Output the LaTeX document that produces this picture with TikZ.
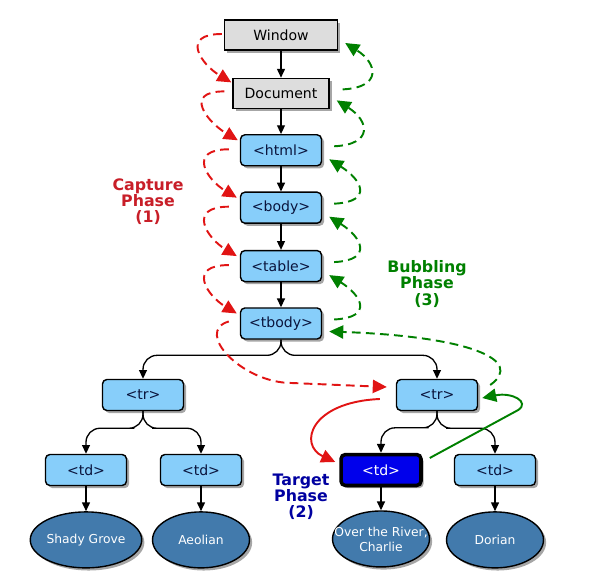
\documentclass[tikz,border=0pt]{standalone}
\usepackage{fontspec}
\setmainfont{DejaVu Sans}
\usetikzlibrary{shapes.geometric, arrows.meta, positioning, calc, shadows}
\definecolor{boxblue}{RGB}{135,206,250}
\definecolor{boxgray}{RGB}{221,221,221}
\definecolor{tgtblue}{RGB}{0,0,235}
\definecolor{leafblue}{RGB}{66,122,172}
\definecolor{txtnavy}{RGB}{10,20,60}
\definecolor{capred}{RGB}{225,20,20}
\definecolor{capredtxt}{RGB}{200,30,40}
\definecolor{bubgreen}{RGB}{0,128,0}
\definecolor{tgtnavy}{RGB}{0,0,160}
\tikzset{
  domshadow/.style={drop shadow={shadow xshift=1.5pt, shadow yshift=-1.5pt,
    fill=black, opacity=0.35}},
  winbox/.style={rectangle, draw=black, fill=boxgray, minimum height=0.6cm,
    font=\fontsize{8}{9}\selectfont, line width=0.8pt, domshadow},
  elbox/.style={rectangle, draw=black, fill=boxblue, minimum width=1.62cm,
    minimum height=0.62cm, rounded corners=2.5pt, text=txtnavy,
    font=\fontsize{8}{9}\selectfont, line width=0.8pt, domshadow},
  tgtbox/.style={elbox, fill=tgtblue, text=white, line width=2pt,
    minimum width=1.6cm, minimum height=0.62cm},
  leaf/.style={ellipse, draw=black, fill=leafblue, minimum width=1.94cm,
    minimum height=1.12cm, inner sep=0pt, align=center, text=white,
    font=\fontsize{7}{8.5}\selectfont, line width=0.8pt, domshadow},
  phase/.style={align=center, font=\fontsize{9}{9.2}\selectfont\bfseries},
  arrow/.style={-{Triangle[length=5pt,width=4.5pt]}, line width=0.75pt, color=black},
  tree/.style={arrow, rounded corners=8pt},
  capture/.style={-{Triangle[length=8pt,width=7.5pt]}, line width=1.1pt,
    dash pattern=on 5pt off 3pt, color=capred},
  bubble/.style={capture, color=bubgreen},
  capsolid/.style={-{Triangle[length=8pt,width=7.5pt]}, line width=1.1pt, color=capred},
  bubsolid/.style={capsolid, color=bubgreen}
}
\begin{document}
\begin{tikzpicture}[x=0.02cm, y=-0.02cm]
  \useasboundingbox (0,0) rectangle (604,581);

  % document chain
  \node[winbox, minimum width=2.26cm] (win) at (281,35) {Window};
  \node[winbox, minimum width=1.92cm, below=0.54cm of win] (doc) {Document};
  \node[elbox, below=0.5cm of doc] (html) {<html>};
  \node[elbox, below=0.5cm of html] (body) {<body>};
  \node[elbox, below=0.52cm of body] (table) {<table>};
  \node[elbox, below=0.5cm of table] (tbody) {<tbody>};

  % rows and cells
  \node[elbox] (trl) at (143,395) {<tr>};
  \node[elbox] (trr) at (437,395) {<tr>};
  \node[elbox] (td1) at (86,470) {<td>};
  \node[elbox] (td2) at (201,470) {<td>};
  \node[tgtbox] (tgt) at (381,470) {<td>};
  \node[elbox] (td4) at (495,470) {<td>};

  \node[leaf, below=0.5cm of td1] (shady) {Shady Grove};
  \node[leaf, below=0.5cm of td2] (aeol) {Aeolian};
  \node[leaf, inner xsep=-7.5pt, below=0.46cm of tgt] (river) {Over the River,\\Charlie};
  \node[leaf, below=0.5cm of td4] (dorian) {Dorian};

  % phase labels
  \node[phase, text=capredtxt] (capt) at (148,202) {Capture\\Phase\\(1)};
  \node[phase, text=bubgreen] (bubl) at (427,284) {Bubbling\\Phase\\(3)};
  \node[phase, text=tgtnavy] (targ) at (301,497) {Target\\Phase\\(2)};

  % tree edges
  \draw[arrow] (win) -- (doc);
  \draw[arrow] (doc) -- (html);
  \draw[arrow] (html) -- (body);
  \draw[arrow] (body) -- (table);
  \draw[arrow] (table) -- (tbody);
  \draw[tree] (tbody.south) |- ($(tbody.south)!0.4!(trl.north)$) -| (trl.north);
  \draw[tree] (tbody.south) |- ($(tbody.south)!0.4!(trr.north)$) -| (trr.north);
  \draw[tree] (trl.south) |- ($(trl.south)!0.4!(td1.north)$) -| (td1.north);
  \draw[tree] (trl.south) |- ($(trl.south)!0.4!(td2.north)$) -| (td2.north);
  \draw[tree] (trr.south) |- ($(trr.south)!0.4!(tgt.north)$) -| (tgt.north);
  \draw[tree] (trr.south) |- ($(trr.south)!0.4!(td4.north)$) -| (td4.north);
  \draw[arrow] (td1) -- (shady);
  \draw[arrow] (td2) -- (aeol);
  \draw[arrow] (tgt) -- (river);
  \draw[arrow] (td4) -- (dorian);

  % capture phase
  \draw[capture] ($(win.west)+(-2,-1)$) .. controls +(-42,0) and +(-30,-18) .. ($(doc.west)+(-1,-11)$);
  \draw[capture] ($(doc.west)+(-8,-2)$) .. controls +(-42,0) and +(-30,-18) .. ($(html.west)+(-2,-10)$);
  \draw[capture] ($(html.west)+(-11,-1)$) .. controls +(-42,0) and +(-30,-18) .. ($(body.west)+(-3,-10)$);
  \draw[capture] ($(body.west)+(-11,-1)$) .. controls +(-42,0) and +(-30,-18) .. ($(table.west)+(-3,-10)$);
  \draw[capture] ($(table.west)+(-11,-1)$) .. controls +(-42,0) and +(-30,-18) .. ($(tbody.west)+(-3,-10)$);
  \draw[capture] ($(tbody.west)+(-11,-2)$) .. controls +(-35,10) and +(-50,0)
    .. ($(trr.west)+(-104,-12)$) -- ($(trr.west)+(-9,-8)$);

  % target phase
  \draw[capsolid] ($(trr.west)+(-16,4)$) .. controls +(-70,3) and +(-37,-17) .. ($(tgt.west)+(-4,-8)$);
  \draw[bubsolid] ($(tgt.east)+(7,-12)$) -- ($(trr.east)+(40,15)$)
    .. controls +(12,-8) and +(30,-6) .. ($(trr.east)+(4,3)$);

  % bubbling phase
  \draw[bubble] ($(trr.east)+(12,-10)$) .. controls +(35,-25) and +(140,5) .. ($(tbody.east)+(7,8)$);
  \draw[bubble] ($(tbody.east)+(12,-4)$) .. controls +(40,-2) and +(32,20) .. ($(table.east)+(7,9)$);
  \draw[bubble] ($(table.east)+(12,-4)$) .. controls +(40,-2) and +(32,20) .. ($(body.east)+(7,9)$);
  \draw[bubble] ($(body.east)+(12,-4)$) .. controls +(40,-2) and +(32,20) .. ($(html.east)+(7,9)$);
  \draw[bubble] ($(html.east)+(12,-4)$) .. controls +(40,-2) and +(32,20) .. ($(doc.east)+(7,7)$);
  \draw[bubble] ($(doc.east)+(13,-4)$) .. controls +(40,-2) and +(32,20) .. ($(win.east)+(7,8)$);
\end{tikzpicture}
\end{document}
